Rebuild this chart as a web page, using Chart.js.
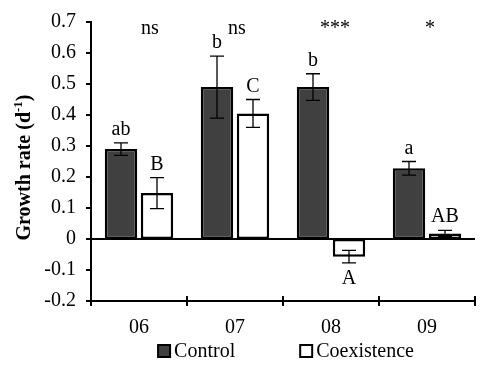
<!DOCTYPE html>
<html>
<head>
<meta charset="utf-8">
<script src="https://cdn.jsdelivr.net/npm/chart.js@4"></script>
<style>
  html, body { margin: 0; padding: 0; background: #fff; }
  #wrap { width: 492px; height: 374px; }
</style>
</head>
<body>
<div id="wrap"><canvas id="c" width="492" height="374"></canvas></div>
<script>
const categories = ['06', '07', '08', '09'];
const controlValues = [0.29, 0.49, 0.49, 0.228];
const controlErrors = [0.02, 0.10, 0.043, 0.022];
const coexValues = [0.148, 0.405, -0.057, 0.018];
const coexErrors = [0.05, 0.045, 0.02, 0.01];
const controlLetters = ['ab', 'b', 'b', 'a'];
const coexLetters = ['B', 'C', 'A', 'AB'];
const significance = ['ns', 'ns', '***', '*'];
const seriesNames = ['Control', 'Coexistence'];
const yMin = -0.2, yMax = 0.7, yStep = 0.1;

const FONT = '"Liberation Serif", "Times New Roman", serif';

const overlay = {
  id: 'overlay',
  afterDatasetsDraw(chart) {
    const ctx = chart.ctx;
    const xs = chart.scales.x, ys = chart.scales.y;
    const area = chart.chartArea;
    ctx.save();
    // zero line
    ctx.strokeStyle = '#000';
    ctx.lineWidth = 2;
    ctx.beginPath();
    ctx.moveTo(area.left, ys.getPixelForValue(0));
    ctx.lineTo(area.right, ys.getPixelForValue(0));
    ctx.stroke();
    // upper part of x ticks (crossing the axis)
    const n = categories.length;
    for (let i = 1; i <= n; i++) {
      const x = Math.round(area.left + i * (area.right - area.left) / n);
      ctx.beginPath();
      ctx.moveTo(x, area.bottom);
      ctx.lineTo(x, area.bottom - 5);
      ctx.stroke();
    }
    // error bars and letters
    const errs = [controlErrors, coexErrors];
    const vals = [controlValues, coexValues];
    const letters = [controlLetters, coexLetters];
    ctx.font = '20px ' + FONT;
    ctx.textAlign = 'center';
    ctx.textBaseline = 'alphabetic';
    ctx.fillStyle = '#000';
    for (let d = 0; d < 2; d++) {
      const meta = chart.getDatasetMeta(d);
      meta.data.forEach((bar, i) => {
        const v = vals[d][i], e = errs[d][i];
        const x = bar.x;
        const yTop = ys.getPixelForValue(v + e);
        const yBot = ys.getPixelForValue(v - e);
        ctx.lineWidth = 1.3;
        ctx.beginPath();
        ctx.moveTo(x, yTop); ctx.lineTo(x, yBot);
        ctx.moveTo(x - 7, yTop); ctx.lineTo(x + 7, yTop);
        ctx.moveTo(x - 7, yBot); ctx.lineTo(x + 7, yBot);
        ctx.stroke();
        if (v >= 0) {
          ctx.fillText(letters[d][i], x, yTop - 8);
        } else {
          ctx.fillText(letters[d][i], x, yBot + 21);
        }
      });
    }
    // significance marks (small horizontal nudges as in the original figure)
    const sigNudge = [11, 2, 4, 3];
    significance.forEach((s, i) => {
      ctx.fillText(s, xs.getPixelForValue(i) + sigNudge[i], area.top + 12);
    });
    ctx.restore();
  },
  afterDraw(chart) {
    const ctx = chart.ctx;
    const area = chart.chartArea;
    ctx.save();
    // y axis title with superscript
    const cy = (area.top + area.bottom) / 2 + 6;
    ctx.translate(25, cy);
    ctx.rotate(-Math.PI / 2);
    ctx.fillStyle = '#000';
    ctx.textBaseline = 'middle';
    ctx.textAlign = 'left';
    const big = 'bold 20px ' + FONT, small = 'bold 13px ' + FONT;
    const parts = [['Growth rate (d', big, 0], ['-1', small, -6], [')', big, 0]];
    let total = 0;
    parts.forEach(p => { ctx.font = p[1]; total += ctx.measureText(p[0]).width; });
    let x = -total / 2;
    parts.forEach(p => { ctx.font = p[1]; ctx.fillText(p[0], x, p[2]); x += ctx.measureText(p[0]).width; });
    ctx.restore();
    // legend
    ctx.save();
    ctx.font = '20px ' + FONT;
    ctx.textBaseline = 'middle';
    ctx.textAlign = 'left';
    const box = 12, gapBox = 4, gapItem = 65;
    const widths = seriesNames.map(s => ctx.measureText(s).width);
    const totalW = box + gapBox + widths[0] + gapItem + box + gapBox + widths[1];
    let lx = (area.left + area.right) / 2 + 3 - totalW / 2;
    const ly = 351;
    chart.data.datasets.forEach((ds, i) => {
      ctx.fillStyle = ds.backgroundColor;
      ctx.fillRect(lx, ly - box / 2, box, box);
      ctx.strokeStyle = '#000';
      ctx.lineWidth = 2;
      ctx.strokeRect(lx, ly - box / 2, box, box);
      ctx.fillStyle = '#000';
      ctx.fillText(seriesNames[i], lx + box + gapBox, ly + 1);
      lx += box + gapBox + widths[i] + gapItem;
    });
    ctx.restore();
  }
};

new Chart(document.getElementById('c'), {
  type: 'bar',
  data: {
    labels: categories,
    datasets: [
      { label: seriesNames[0], data: controlValues, backgroundColor: '#404040', borderColor: '#000', borderWidth: 2.5, borderSkipped: false },
      { label: seriesNames[1], data: coexValues, backgroundColor: '#ffffff', borderColor: '#000', borderWidth: 2.5, borderSkipped: false }
    ]
  },
  options: {
    responsive: false,
    animation: false,
    events: [],
    layout: { padding: { top: 20, right: 17, left: 0, bottom: 0 } },
    datasets: { bar: { categoryPercentage: 0.75, barPercentage: 0.9 } },
    plugins: { legend: { display: false }, tooltip: { enabled: false } },
    scales: {
      x: {
        grid: { display: true, drawOnChartArea: false, color: '#000', lineWidth: 2, tickLength: 5 },
        border: { display: true, color: '#000', width: 2 },
        ticks: { color: '#000', font: { family: FONT, size: 20 }, padding: 10 },
        afterFit(scale) { scale.height = 73; }
      },
      y: {
        min: yMin, max: yMax,
        grid: { display: true, drawOnChartArea: false, color: '#000', lineWidth: 2, tickLength: 5 },
        border: { display: true, color: '#000', width: 2 },
        ticks: {
          stepSize: yStep, color: '#000', font: { family: FONT, size: 20 }, padding: 10,
          callback: v => String(Math.round(v * 10) / 10)
        },
        afterFit(scale) { scale.width = 91; }
      }
    }
  },
  plugins: [overlay]
});
</script>
</body>
</html>
